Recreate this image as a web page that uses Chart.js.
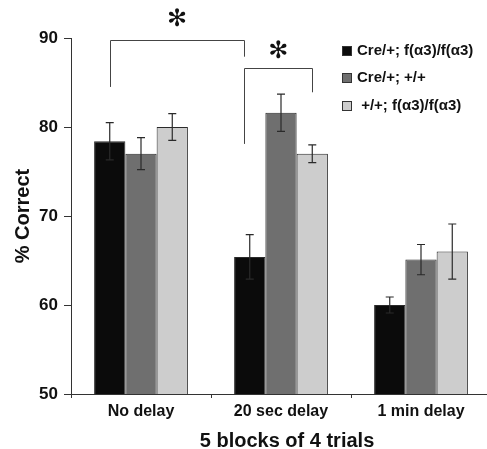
<!DOCTYPE html>
<html>
<head>
<meta charset="utf-8">
<script src="https://cdn.jsdelivr.net/npm/chart.js@4/dist/chart.umd.min.js"></script>
<style>
  body { margin: 0; background: #fff; overflow: hidden; }
  canvas { display: block; }
</style>
</head>
<body>
<canvas id="myBarChart" width="492" height="449"></canvas>
<script>
// categories and series
const categories = ["No delay", "20 sec delay", "1 min delay"];
const seriesLabels = ["Cre/+; f(\u03b13)/f(\u03b13)", "Cre/+; +/+", " +/+; f(\u03b13)/f(\u03b13)"];
const creFloxed = [78.4, 65.4, 60.0];
const creWild = [77.0, 81.6, 65.1];
const wildFloxed = [80.0, 77.0, 66.0];
// error bar half-widths
const creFloxedErr = [2.1, 2.5, 0.9];
const creWildErr = [1.8, 2.1, 1.7];
const wildFloxedErr = [1.5, 1.0, 3.1];
const yTicks = [50, 60, 70, 80, 90];
const xTitle = "5 blocks of 4 trials";
const yTitle = "% Correct";
// significance brackets: [dataset, index] -> [dataset, index], top, left end, right end, star
const brackets = [
  { from: [0, 0], to: [0, 1], top: 89.8, leftEnd: 84.5, rightEnd: 87.9, star: 92.0 },
  { from: [0, 1], to: [2, 1], top: 86.6, leftEnd: 78.1, rightEnd: 83.9, star: 88.4 },
];

const colors = ["#0b0b0b", "#6f6f6f", "#cdcdcd"];
const errors = [creFloxedErr, creWildErr, wildFloxedErr];
const FONT = "'Liberation Sans', Arial, sans-serif";

const errorBars = {
  id: "errorBars",
  afterDatasetsDraw(chart) {
    const ctx = chart.ctx;
    const y = chart.scales.y;
    ctx.save();
    ctx.strokeStyle = "#2a2a2a";
    ctx.lineWidth = 1.2;
    chart.data.datasets.forEach((ds, di) => {
      chart.getDatasetMeta(di).data.forEach((bar, i) => {
        const v = ds.data[i], e = errors[di][i];
        const top = y.getPixelForValue(v + e), bot = y.getPixelForValue(v - e);
        ctx.beginPath();
        ctx.moveTo(bar.x, top); ctx.lineTo(bar.x, bot);
        ctx.moveTo(bar.x - 4, top); ctx.lineTo(bar.x + 4, top);
        ctx.moveTo(bar.x - 4, bot); ctx.lineTo(bar.x + 4, bot);
        ctx.stroke();
      });
    });
    ctx.restore();
  },
};

const annotations = {
  id: "annotations",
  afterDraw(chart) {
    const ctx = chart.ctx;
    const y = chart.scales.y;
    const area = chart.chartArea;
    ctx.save();
    // brackets
    ctx.strokeStyle = "#444";
    ctx.lineWidth = 1;
    brackets.forEach((b) => {
      const b1 = chart.getDatasetMeta(b.from[0]).data[b.from[1]];
      const b2 = chart.getDatasetMeta(b.to[0]).data[b.to[1]];
      const x1 = b.from[1] === 0 ? b1.x : b1.x - b1.width * 0.17;
      const x2 = b.to[0] === 0 && b.to[1] === 1 ? b2.x - b2.width * 0.17 : b2.x;
      const yt = Math.round(y.getPixelForValue(b.top)) + 0.5;
      ctx.beginPath();
      ctx.moveTo(Math.round(x1) + 0.5, y.getPixelForValue(b.leftEnd));
      ctx.lineTo(Math.round(x1) + 0.5, yt);
      ctx.lineTo(Math.round(x2) + 0.5, yt);
      ctx.lineTo(Math.round(x2) + 0.5, y.getPixelForValue(b.rightEnd));
      ctx.stroke();
      ctx.fillStyle = "#111";
      ctx.font = "24px 'DejaVu Sans'";
      ctx.textAlign = "center";
      ctx.textBaseline = "middle";
      ctx.fillText("\u273b", (x1 + x2) / 2, y.getPixelForValue(b.star));
    });

    // legend
    ctx.font = "bold 15px " + FONT;
    ctx.textAlign = "left";
    ctx.textBaseline = "middle";
    const rows = [51, 78, 106];
    seriesLabels.forEach((label, i) => {
      ctx.fillStyle = colors[i];
      ctx.fillRect(342, rows[i] - 5, 10, 10);
      ctx.strokeStyle = "#333";
      ctx.strokeRect(342.5, rows[i] - 4.5, 9, 9);
      ctx.fillStyle = "#111";
      ctx.fillText(label, 357, rows[i]);
    });

    // axis titles
    ctx.font = "bold 20px " + FONT;
    ctx.textAlign = "center";
    ctx.fillText(xTitle, (area.left + area.right) / 2 + 6, 441);
    ctx.translate(23, (area.top + area.bottom) / 2);
    ctx.rotate(-Math.PI / 2);
    ctx.fillText(yTitle, 0, 0);
    ctx.restore();
  },
};

Chart.defaults.font.family = FONT;
Chart.defaults.color = "#111";

new Chart(document.getElementById("myBarChart").getContext("2d"), {
  type: "bar",
  data: {
    labels: categories,
    datasets: [creFloxed, creWild, wildFloxed].map((d, i) => ({
      label: seriesLabels[i],
      data: d,
      backgroundColor: colors[i],
      borderColor: "#2a2a2a",
      borderWidth: 1,
      categoryPercentage: 0.67,
      barPercentage: 1.0,
    })),
  },
  options: {
    responsive: false,
    animation: false,
    layout: { padding: { top: 38, right: 1, left: 0, bottom: 0 } },
    scales: {
      x: {
        type: "category",
        afterFit: (s) => { s.height = 55; },
        grid: { drawOnChartArea: false, drawTicks: true, tickLength: 4, color: "#333", offset: true },
        border: { color: "#333" },
        ticks: { font: { size: 16, weight: "bold" }, padding: 4, color: "#111" },
      },
      y: {
        min: 50,
        max: 90,
        afterFit: (s) => { s.width = 71; },
        afterBuildTicks: (s) => { s.ticks = yTicks.map((v) => ({ value: v })); },
        grid: { drawOnChartArea: false, tickLength: 7, color: "#333" },
        border: { color: "#333" },
        ticks: { font: { size: 17, weight: "bold" }, padding: 6, color: "#111" },
      },
    },
    plugins: {
      legend: { display: false },
      tooltip: { enabled: false },
    },
  },
  plugins: [errorBars, annotations],
});
</script>
</body>
</html>
